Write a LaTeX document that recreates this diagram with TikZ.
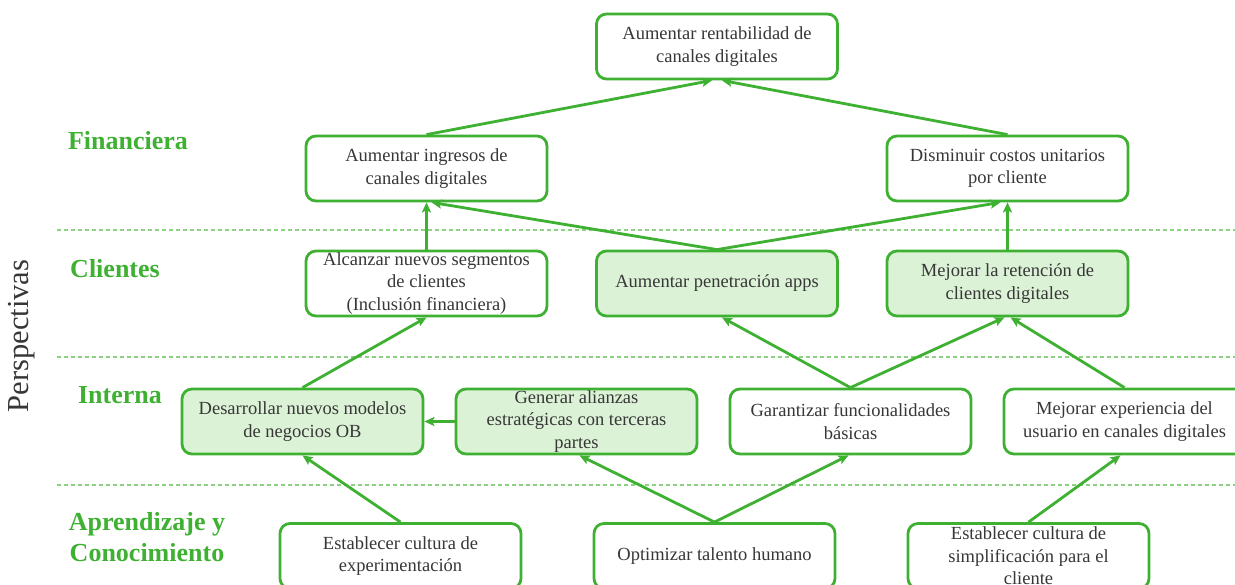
\documentclass[tikz,border=0pt]{standalone}
\usepackage{fontspec}
\setmainfont{Liberation Serif}
\usetikzlibrary{arrows.meta}
\definecolor{bscgreen}{RGB}{62,176,50}
\definecolor{bscfill}{RGB}{220,242,214}
\definecolor{bscline}{RGB}{140,210,130}
\definecolor{bsctext}{RGB}{55,55,55}

\begin{document}
\begin{tikzpicture}[->,>={Stealth[length=10pt,width=9pt,inset=2pt]},x=1pt,y=-1pt,
                    line width=2.8pt]
      \tikzstyle{goal}=[draw=bscgreen,rounded corners=10pt,fill=white,
                        minimum width=241pt,minimum height=65pt,inner ysep=0pt,
                        align=center,text=bsctext,
                        font=\fontsize{18.5}{22.5}\selectfont]
      \tikzstyle{focus}=[goal,fill=bscfill]
      \tikzstyle{level}=[text=bscgreen,align=center,
                         font=\fontsize{26}{31}\selectfont\bfseries]
      \tikzstyle{sep}=[-,draw=bscline,line width=1.2pt,dash pattern=on 4pt off 3pt]

      \useasboundingbox (0,0) rectangle (1235,585);

      % separators between perspectives
      \draw[sep] (57,230) -- (1235,230);
      \draw[sep] (57,357) -- (1235,357);
      \draw[sep] (57,485) -- (1235,485);

      \node[rotate=90,text=bsctext,font=\fontsize{30.5}{36}\selectfont]
            (persp) at (22,336) {Perspectivas};
      \node[level] (fin) at (128,141)   {Financiera};
      \node[level] (cli) at (115,269)   {Clientes};
      \node[level] (int) at (120,395)   {Interna};
      \node[level] (apr) at (147,537.5) {Aprendizaje y\\Conocimiento};

      \node[goal]  (F0) at (717,46.5)    {Aumentar rentabilidad de\\canales digitales};
      \node[goal]  (F1) at (426.5,168.5) {Aumentar ingresos de\\canales digitales};
      \node[goal]  (F2) at (1007.5,168.5) {Disminuir costos unitarios\\por cliente};

      \node[goal]  (C1) at (426.5,283.5) {Alcanzar nuevos segmentos\\de clientes\\(Inclusión financiera)};
      \node[focus] (C2) at (717,283.5)   {Aumentar penetración apps};
      \node[focus] (C3) at (1007.5,283.5) {Mejorar la retención de\\clientes digitales};

      \node[focus] (P1) at (302.5,421.5) {Desarrollar nuevos modelos\\de negocios OB};
      \node[focus] (P2) at (576.5,421.5) {Generar alianzas\\estratégicas con terceras\\partes};
      \node[goal]  (P3) at (850.5,421.5) {Garantizar funcionalidades\\básicas};
      \node[goal]  (P4) at (1124.5,421.5) {Mejorar experiencia del\\usuario en canales digitales};

      \node[goal]  (A1) at (400.5,556)   {Establecer cultura de\\experimentación};
      \node[goal]  (A2) at (714.5,556)   {Optimizar talento humano};
      \node[goal]  (A3) at (1028.5,556)  {Establecer cultura de\\simplificación para el\\cliente};

      \path[color=bscgreen]
            (F1.north) edge ([xshift=-5pt]F0.south)
            (F2.north) edge ([xshift=5pt]F0.south)
            (C1.north) edge (F1.south)
            (C2.north) edge ([xshift=5pt]F1.south)
                       edge ([xshift=-7pt]F2.south)
            (C3.north) edge (F2.south)
            (P1.north) edge (C1.south)
            (P2.west)  edge (P1.east)
            (P3.north) edge ([xshift=5pt]C2.south)
                       edge ([xshift=-3pt]C3.south)
            (P4.north) edge ([xshift=3pt]C3.south)
            (A1.north) edge (P1.south)
            (A2.north) edge ([xshift=3pt]P2.south)
                       edge ([xshift=-2pt]P3.south)
            (A3.north) edge ([xshift=-4pt]P4.south);

    \end{tikzpicture}
\end{document}
